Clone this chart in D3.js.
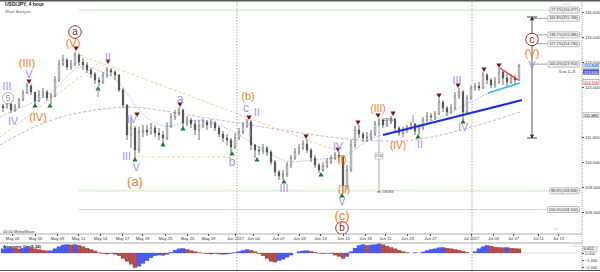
<!DOCTYPE html>
<html><head><meta charset="utf-8">
<script src="https://cdn.jsdelivr.net/npm/d3@7"></script>
<style>body{margin:0;background:#fff}svg{display:block;font-family:"Liberation Sans",Arial,sans-serif}</style>
</head><body><svg id="c" width="600" height="272"></svg>
<script>
// ---------- DATA ----------
const openP = [112.24,112.16,112.32,112.08,112.20,112.48,112.76,113.04,112.80,112.44,
112.68,112.80,112.56,112.64,113.28,113.92,114.08,113.80,113.92,114.28,
114.00,113.88,113.68,113.52,113.28,113.20,113.48,113.68,113.60,113.48,
112.88,112.28,111.08,111.36,110.48,111.20,111.28,111.20,111.36,111.16,
111.08,110.96,111.44,111.80,111.96,112.08,111.56,111.68,111.52,111.28,
111.44,111.60,111.48,111.56,111.36,111.12,110.96,110.88,110.60,110.96,
111.20,111.44,111.60,110.68,110.48,110.44,110.56,110.40,110.00,109.60,
109.44,109.52,109.88,110.16,110.40,110.56,110.72,110.48,110.16,109.88,
109.68,109.84,110.00,110.16,110.28,110.20,109.04,109.68,110.68,111.28,
111.12,110.96,111.00,111.12,111.52,111.68,111.48,111.60,111.72,111.36,
111.16,111.28,111.36,111.52,111.24,111.36,111.68,111.84,111.80,111.92,
112.40,112.16,112.00,112.16,112.64,112.80,112.00,112.56,112.96,113.04,
112.96,113.48,113.28,113.08,113.20,113.60,113.36,113.20,113.36,113.28];
const closeP = [112.16,112.32,112.08,112.20,112.48,112.76,113.04,112.80,112.44,112.68,
112.80,112.56,112.64,113.28,113.92,114.08,113.80,113.92,114.28,114.00,
113.88,113.68,113.52,113.28,113.20,113.48,113.68,113.60,113.48,112.88,
112.28,111.08,111.36,110.48,111.20,111.28,111.20,111.36,111.16,111.08,
110.96,111.44,111.80,111.96,112.08,111.56,111.68,111.52,111.28,111.44,
111.60,111.48,111.56,111.36,111.12,110.96,110.88,110.60,110.96,111.20,
111.44,111.60,110.68,110.48,110.44,110.56,110.40,110.00,109.60,109.44,
109.52,109.88,110.16,110.40,110.56,110.72,110.48,110.16,109.88,109.68,
109.84,110.00,110.16,110.28,110.20,109.04,109.68,110.68,111.28,111.12,
110.96,111.00,111.12,111.52,111.68,111.48,111.60,111.72,111.36,111.16,
111.28,111.36,111.52,111.24,111.36,111.68,111.84,111.80,111.92,112.40,
112.16,112.00,112.16,112.64,112.80,112.00,112.56,112.96,113.04,112.96,
113.48,113.28,113.08,113.20,113.60,113.36,113.20,113.36,113.28,113.84];
const highP = [112.32,112.48,112.36,112.32,112.56,112.88,113.16,113.12,112.80,112.88,
112.96,112.88,112.76,113.44,114.08,114.28,114.16,114.08,114.40,114.36,
114.16,114.00,113.76,113.60,113.40,113.60,113.80,113.76,113.68,113.52,
112.96,112.32,111.80,111.44,111.40,111.48,111.48,111.56,111.48,111.36,
111.24,111.60,111.96,112.08,112.20,112.12,111.84,111.76,111.68,111.68,
111.72,111.68,111.72,111.64,111.44,111.24,111.12,110.96,111.16,111.36,
111.60,111.72,111.68,110.72,110.64,110.72,110.64,110.48,110.08,109.68,
109.68,110.00,110.28,110.56,110.72,110.88,110.92,110.56,110.28,109.96,
110.00,110.16,110.28,110.40,110.40,110.28,109.88,110.88,111.44,111.48,
111.20,111.20,111.28,111.64,111.76,111.72,111.76,111.84,111.76,111.44,
111.40,111.48,111.60,111.56,111.52,111.80,112.00,111.96,112.04,112.56,
112.48,112.24,112.32,112.80,112.96,112.88,112.68,113.08,113.16,113.20,
113.60,113.56,113.36,113.40,113.76,113.68,113.52,113.52,113.48,113.92];
const lowP = [112.00,112.16,111.96,112.00,112.16,112.44,112.72,112.68,112.32,112.40,
112.56,112.44,112.32,112.60,113.20,113.84,113.68,113.68,113.84,113.84,
113.68,113.56,113.36,113.12,113.04,113.12,113.36,113.44,113.28,112.80,
112.16,110.88,110.56,110.16,110.36,111.00,111.04,111.08,111.00,110.88,
110.76,110.88,111.36,111.68,111.84,111.40,111.44,111.36,111.08,110.88,
111.36,111.28,111.36,111.24,111.00,110.80,110.68,110.36,110.52,110.88,
111.12,111.36,110.48,110.16,110.28,110.32,110.24,109.88,109.44,109.28,
109.28,109.40,109.76,110.08,110.28,110.48,110.36,110.00,109.76,109.56,
109.60,109.76,109.92,110.08,109.96,108.72,108.88,109.60,110.56,110.96,
110.80,110.80,110.88,111.04,111.44,111.36,111.40,111.52,111.24,111.04,
111.00,111.16,111.28,111.08,111.08,111.28,111.60,111.64,111.68,111.88,
112.00,111.84,111.92,112.08,112.52,111.68,111.96,112.48,112.84,112.84,
112.92,113.12,112.96,112.96,113.12,113.08,112.96,113.12,113.12,113.24];
const aoValues = [0.6,0.7,0.8,0.7,0.6,0.7,0.9,0.8,0.6,0.5,
0.4,0.3,0.32,0.6,0.9,1.15,1.2,1.15,1.2,1.1,
0.9,0.7,0.5,0.3,0.05,-0.1,-0.15,-0.1,-0.2,-0.4,
-0.8,-1.2,-1.6,-2.1,-1.9,-1.5,-1.1,-0.7,-0.4,-0.3,
-0.35,-0.2,0.1,0.4,0.6,0.65,0.5,0.35,0.2,0.05,
-0.05,-0.1,-0.15,-0.1,-0.15,-0.2,-0.15,-0.1,0.05,0.2,
0.35,0.5,0.4,0.2,-0.1,-0.4,-0.8,-1.2,-1.3,-1.1,
-0.9,-0.6,-0.3,0.0,0.2,0.3,0.35,0.25,0.1,-0.05,
-0.1,-0.05,-0.1,-0.3,-0.5,-0.8,-0.5,0.2,0.7,1.1,
1.2,1.1,1.15,1.2,1.3,1.2,1.0,0.8,0.6,0.4,
0.2,0.05,0.0,0.05,0.0,0.15,0.35,0.5,0.6,0.75,
0.8,0.7,0.6,0.5,0.4,0.25,0.1,0.0,0.2,0.6,
0.9,1.1,1.0,0.85,0.8,0.75,0.78,0.7,0.65,0.6];

const dateLabels = ["May 03","May 05","May 09","May 11","May 14","May 17","May 19","May 23","May 25","May 29","Jun 2017","Jun 04","Jun 07","Jun 09","Jun 13","Jun 15","Jun 18","Jun 21","Jun 23","Jun 27","Jul 2017","Jul 05","Jul 07","Jul 11","Jul 13"];
const datePos = [2.25,8,13.5,18.75,24.25,29.75,34.75,40.5,46,51.25,58,62.5,68.75,74,79.25,85,90.5,95.5,101,106.75,117,122.5,127.5,133.75,138.75];
const monthStarts = [58.5,117.25];
const priceTicks = [116,115,114,113,111,110,109,108];
const aoTicks = [0,-1,-2];

const fastMA = [[-0.75,111.80],[4.25,112.16],[9.25,112.48],[13,112.88],[15.5,113.36],[18.5,113.84],[21.75,113.80],[25.5,113.56],[28.75,113.28],[31.25,112.68],[34.25,112.00],[37.25,111.60],[40.5,111.36],[44.25,111.52],[49.25,111.76],[54.25,111.48],[59.25,111.08],[64.25,110.56],[68,110.20],[71.75,109.96],[76.75,110.08],[82.5,110.16],[86,110.20],[89.25,110.68],[92.5,111.00],[99.25,111.28],[104.25,111.44],[109.25,111.80],[114.25,112.16],[118,112.48],[121.25,112.76],[125.5,113.00],[129.25,113.16]];
const slowMA = [[-0.75,110.68],[6.75,111.36],[15.25,111.88],[24.25,112.12],[31.75,112.24],[39.25,112.08],[49.25,111.80],[61.75,111.48],[74.25,111.16],[86.75,110.88],[99.25,110.80],[106.75,110.96],[116.75,111.36],[129.25,112.00]];

const peachLine = [[19.25,114.28],[84.25,110.40]];
const peachFlat = [[33.5,110.20],[57.5,110.20]];
const paleLine = [[-0.75,111.00],[24.25,114.00]];
const cyanLine = [[121.25,112.76],[129.25,113.16]];
const redLine = [[124.25,113.76],[128.75,113.28]];
const blueLine = [[95,111.08],[129.75,112.48]];

const minorLabels = [["III",1,113.04],["IV",2.5,111.64],["V",6.5,113.52],["I",23.75,112.76],["II",26.25,114.20],["IV",32.25,111.72],["III",30.9,110.24],["V",33.3,109.80],["a",44.25,112.52],["b",57.25,110.00],["c",60.75,112.16],["II",63.5,112.00],["I",61.75,111.16],["III",70.25,108.96],["IV",83.75,110.64],["V",84.75,108.44],["I",102.5,111.72],["II",104.25,110.72],["III",113.5,113.28],["IV",115,111.40],["V",132.25,113.88]];
const intermLabels = [["(III)",6,113.96,11],["(IV)",8.75,111.80,11],["(V)",17.5,114.76,11],["(a)",33,109.24,13],["(b)",61.25,112.64,11],["(I)",84.75,110.12,10],["(II)",85.25,108.92,10],["(c)",84.75,107.88,13],["(III)",93.75,112.16,10],["(IV)",98.75,110.68,10],["(V)",132.25,114.36,11]];
const primaryLabels = [["a",18,115.20],["b",84.75,107.36],["c",132.25,114.90]];
const degreeFiveLabels = [["5",1.25,112.56]];

const topMarks = [[6.5,113.16],[18.25,114.48],[26.25,113.96],[33.5,111.84],[44.25,112.24],[61.5,111.72],[75.75,110.96],[83.75,110.44],[88.75,111.52],[93.75,111.80],[97.5,111.88],[109,112.60],[113.75,113.00],[120.25,113.64],[124,113.80]];
const bottomMarks = [[8,112.32],[11.75,112.32],[23.75,113.00],[33,110.16],[40,110.76],[45,111.40],[57.25,110.40],[63.5,110.16],[70.25,109.28],[79.5,109.56],[84.75,108.72],[103.75,111.08],[115,111.68]];

const fibLevels = [116.077,115.746,115.086,114.730,113.914,108.846,108.100];
const fibTexts = ["27.2%(116.077)","161.8%(115.746)","138.2%(115.086)","127.2%(114.730)","100.0%(113.914)","88.6%(108.846)","100.0%(108.100)"];
const fibFrom = [19,132.25,132.25,132.25,132.25,19,19];

const measureBig = [132.25,115.80,110.96];
const measureSmall = [94,111.68,108.80];
const priceTags = [["113.848",113.848],["113.600",113.60],["113.196",113.20],["111.880",111.88]];

// ---------- SCALES ----------
const svg = d3.select("#c");
const R = 582;
const x = d3.scaleLinear().domain([-0.75,144.75]).range([0,R]);
const y = d3.scaleLinear().domain([116.48,107.12]).range([0,234]);
const yo = d3.scaleLinear().domain([1.43,-2.43]).range([243,270]);
const purple="#a98ef0", orange="#f47c22", darkred="#8e1b1b";

const main = svg.append("g");
svg.append("defs").append("clipPath").attr("id","clipMain").append("rect").attr("x",0).attr("y",2).attr("width",R).attr("height",232);
const plot = main.append("g").attr("clip-path","url(#clipMain)");

monthStarts.forEach(m=>{
  svg.append("line").attr("x1",x(m)).attr("x2",x(m)).attr("y1",2).attr("y2",270)
    .attr("stroke","#aaa").attr("stroke-width",1).attr("stroke-dasharray","1.5,1.5");
});

fibLevels.forEach((lv,k)=>{
  const t = svg.append("text").attr("x",578).attr("y",y(lv)).attr("text-anchor","end")
    .attr("dominant-baseline","central").attr("font-size",3.8).attr("fill","#333").text(fibTexts[k]);
  const w = t.node().getComputedTextLength();
  const green = fibFrom[k] < 100;
  plot.append("line").attr("x1",x(fibFrom[k])).attr("x2",578-w-2).attr("y1",y(lv)).attr("y2",y(lv))
    .attr("stroke", green ? "#c2e8b8" : "#888").attr("stroke-width",green?1:0.8);
  svg.insert("rect","text").attr("x",578-w-1.5).attr("y",y(lv)-3).attr("width",w+3).attr("height",6)
    .attr("rx",1.5).attr("fill","#f3f3f3").attr("stroke","#999").attr("stroke-width",0.6);
  t.raise();
});
svg.append("text").attr("x",567).attr("y",y(113.64)).attr("text-anchor","middle").attr("dominant-baseline","central")
  .attr("font-size",4.2).attr("fill","#222").text("5 vs 1+3");

const line = d3.line().x(d=>x(d[0])).y(d=>y(d[1]));
const lineC = d3.line().x(d=>x(d[0])).y(d=>y(d[1])).curve(d3.curveBasis);

plot.append("path").attr("d",lineC(slowMA)).attr("fill","none").attr("stroke","#d9a6e6").attr("stroke-width",1).attr("stroke-dasharray","3,2");
plot.append("path").attr("d",lineC(fastMA)).attr("fill","none").attr("stroke","#9cc0f2").attr("stroke-width",1).attr("stroke-dasharray","1.5,1.5");
plot.append("path").attr("d",line(peachLine)).attr("fill","none").attr("stroke","#f6c99a").attr("stroke-width",1).attr("stroke-dasharray","3,2");
plot.append("path").attr("d",line(peachFlat)).attr("fill","none").attr("stroke","#efd7a8").attr("stroke-width",1).attr("stroke-dasharray","3,2");
plot.append("path").attr("d",line(paleLine)).attr("fill","none").attr("stroke","#d9dea6").attr("stroke-width",1).attr("stroke-dasharray","3,2");

const cg = plot.append("g");
closeP.forEach((c,i)=>{
  const o = openP[i];
  cg.append("line").attr("x1",x(i)).attr("x2",x(i)).attr("y1",y(highP[i])).attr("y2",y(lowP[i]))
    .attr("stroke","#4a4a4a").attr("stroke-width",0.8);
  const top = y(Math.max(o,c)), bot = y(Math.min(o,c));
  cg.append("rect").attr("x",x(i)-0.9).attr("width",1.8).attr("y",top).attr("height",Math.max(0.8,bot-top))
    .attr("fill", c>=o ? "#e8e8e8" : "#555").attr("stroke","#4a4a4a").attr("stroke-width",0.4);
});

plot.append("path").attr("d",line(blueLine)).attr("stroke","#1d2fe0").attr("stroke-width",2.2).attr("fill","none");
plot.append("path").attr("d",line(cyanLine)).attr("stroke","#2fc4ee").attr("stroke-width",1.8).attr("fill","none");
plot.append("path").attr("d",line(redLine)).attr("stroke","#e8332e").attr("stroke-width",1.3).attr("fill","none");

const tri = d3.symbol().type(d3.symbolTriangle).size(12);
topMarks.forEach(d=>{
  plot.append("path").attr("d",tri()).attr("fill","#7d1414")
    .attr("transform",`translate(${x(d[0])},${y(d[1])-2}) rotate(180)`);
});
bottomMarks.forEach(d=>{
  plot.append("path").attr("d",tri()).attr("fill","#1e7a2e")
    .attr("transform",`translate(${x(d[0])},${y(d[1])+2})`);
});

const mb = measureBig;
plot.append("line").attr("x1",x(mb[0])).attr("x2",x(mb[0])).attr("y1",y(mb[1])).attr("y2",y(mb[2])).attr("stroke","#333").attr("stroke-width",0.8);
[mb[1],mb[2]].forEach((p,k)=>{
  plot.append("line").attr("x1",x(mb[0])-5).attr("x2",x(mb[0])+5).attr("y1",y(p)).attr("y2",y(p)).attr("stroke","#333").attr("stroke-width",0.9);
  plot.append("path").attr("d",d3.symbol().type(d3.symbolTriangle).size(8)())
    .attr("transform",`translate(${x(mb[0])},${y(p)+(k?-2:2)}) rotate(${k?180:0})`).attr("fill","#333");
});
const ms = measureSmall;
plot.append("line").attr("x1",x(ms[0])).attr("x2",x(ms[0])).attr("y1",y(ms[1])).attr("y2",y(ms[2])).attr("stroke","#999").attr("stroke-width",0.8);
plot.append("line").attr("x1",x(ms[0])-2).attr("x2",x(ms[0])+2).attr("y1",y(ms[2])).attr("y2",y(ms[2])).attr("stroke","#777");
plot.append("rect").attr("x",x(ms[0])-4).attr("y",y((ms[1]+ms[2])/2)-3).attr("width",8).attr("height",6).attr("fill","#fff").attr("stroke","#999").attr("stroke-width",0.5);
plot.append("text").attr("x",x(ms[0])).attr("y",y((ms[1]+ms[2])/2)).attr("text-anchor","middle").attr("dominant-baseline","central").attr("font-size",3).attr("fill","#333").text("2.914");
plot.append("text").attr("x",x(ms[0])+3).attr("y",y(ms[1])).attr("dominant-baseline","central").attr("font-size",3.2).attr("fill","#333").text("111.730");
plot.append("text").attr("x",x(ms[0])+3).attr("y",y(ms[2])).attr("dominant-baseline","central").attr("font-size",3.2).attr("fill","#333").text("108.816");

minorLabels.forEach(d=>{
  plot.append("text").attr("x",x(d[1])).attr("y",y(d[2])).attr("text-anchor","middle").attr("dominant-baseline","central")
    .attr("font-size", /[abc]/.test(d[0]) ? 12 : 10.5).attr("fill",purple).text(d[0]);
});
intermLabels.forEach(d=>{
  plot.append("text").attr("x",x(d[1])).attr("y",y(d[2])).attr("text-anchor","middle").attr("dominant-baseline","central")
    .attr("font-size",d[3]).attr("fill",orange).text(d[0]);
});
primaryLabels.forEach(d=>{
  plot.append("circle").attr("cx",x(d[1])).attr("cy",y(d[2])).attr("r",6.3).attr("fill","#fff").attr("stroke",darkred).attr("stroke-width",0.9);
  plot.append("text").attr("x",x(d[1])).attr("y",y(d[2])-0.5).attr("text-anchor","middle").attr("dominant-baseline","central")
    .attr("font-size",10).attr("fill",darkred).text(d[0]);
});
degreeFiveLabels.forEach(d=>{
  plot.append("circle").attr("cx",x(d[1])).attr("cy",y(d[2])).attr("r",5.5).attr("fill","#fff").attr("stroke","#aaa").attr("stroke-width",0.9);
  plot.append("text").attr("x",x(d[1])).attr("y",y(d[2])).attr("text-anchor","middle").attr("dominant-baseline","central")
    .attr("font-size",9).attr("fill","#999").text(d[0]);
});

svg.append("text").attr("x",5).attr("y",6).attr("font-size",5).attr("font-weight","bold").attr("fill","#222").text("USD/JPY, 4 hour");
svg.append("text").attr("x",5).attr("y",12.5).attr("font-size",4).attr("fill","#666").text("Wave Analysis");
svg.append("line").attr("x1",0).attr("x2",600).attr("y1",0.75).attr("y2",0.75).attr("stroke","#555").attr("stroke-width",1.5);
svg.append("text").attr("x",566).attr("y",5).attr("text-anchor","middle").attr("font-size",4).attr("fill","#999").text("◇◇◇");
svg.append("text").attr("x",556).attr("y",230).attr("text-anchor","middle").attr("font-size",4).attr("fill","#999").text("◇◇");
svg.append("text").attr("x",574).attr("y",247).attr("text-anchor","middle").attr("font-size",4).attr("fill","#999").text("◇□");

svg.append("text").attr("x",3).attr("y",232.5).attr("font-size",4).attr("fill","#333").text("00:00 MetroWave");
svg.append("line").attr("x1",0).attr("x2",R).attr("y1",234).attr("y2",234).attr("stroke","#777").attr("stroke-width",0.6);
svg.append("line").attr("x1",0).attr("x2",R).attr("y1",243).attr("y2",243).attr("stroke","#777").attr("stroke-width",0.6);
const xa = svg.append("g").attr("transform","translate(0,234)")
  .call(d3.axisBottom(x).tickValues(datePos).tickFormat((d,i)=>dateLabels[i]).tickSize(2).tickPadding(1));
xa.select(".domain").remove();
xa.selectAll("text").attr("font-size",4.2).attr("fill","#333").attr("font-family","Liberation Sans, Arial");
xa.selectAll("line").attr("stroke","#555");

svg.append("line").attr("x1",R).attr("x2",R).attr("y1",2).attr("y2",270).attr("stroke","#888").attr("stroke-width",0.8).attr("stroke-dasharray","1,1");
const ya = svg.append("g").attr("transform",`translate(${R},0)`)
  .call(d3.axisRight(y).tickValues(priceTicks).tickFormat(d3.format(".3f")).tickSize(2).tickPadding(1));
ya.select(".domain").remove();
ya.selectAll("text").attr("font-size",4.2).attr("fill","#333").attr("font-family","Liberation Sans, Arial");
ya.selectAll("line").attr("stroke","#555");
const tagStyle = [["#cfe0ff","#1a4bd0"],["#4a55d8","#fff"],["#fff","#c22"],["#eee","#222"]];
priceTags.forEach((d,k)=>{
  svg.append("rect").attr("x",R+1).attr("y",y(d[1])-2.6).attr("width",16).attr("height",5.2)
    .attr("fill",tagStyle[k][0]).attr("stroke",k==2?"#c22":"#888").attr("stroke-width",0.4);
  svg.append("text").attr("x",R+2).attr("y",y(d[1])).attr("dominant-baseline","central").attr("font-size",4)
    .attr("fill",tagStyle[k][1]).text(d[0]);
});

svg.append("text").attr("x",3).attr("y",248).attr("font-size",4).attr("font-weight","bold").attr("fill","#222").text("Awesome Osc(5,34)");
const og = svg.append("g");
aoValues.forEach((v,i)=>{
  const up = i===0 ? true : v >= aoValues[i-1];
  og.append("rect").attr("x",x(i)-2).attr("width",4)
    .attr("y",Math.min(yo(0),yo(v))).attr("height",Math.abs(yo(v)-yo(0)))
    .attr("fill", up ? "#4a5cf2" : "#b2524c").attr("stroke", up ? "#3d4fe0" : "#9c433e").attr("stroke-width",0.3);
});
svg.append("line").attr("x1",x(129.5)).attr("x2",R).attr("y1",yo(0)).attr("y2",yo(0)).attr("stroke","#999").attr("stroke-width",0.6).attr("stroke-dasharray","1,1");
const oa = svg.append("g").attr("transform",`translate(${R},0)`)
  .call(d3.axisRight(yo).tickValues(aoTicks).tickFormat(d3.format(".3f")).tickSize(2).tickPadding(1));
oa.select(".domain").remove();
oa.selectAll("text").attr("font-size",4).attr("fill","#333").attr("font-family","Liberation Sans, Arial");
oa.selectAll("line").attr("stroke","#555");
svg.append("rect").attr("x",R+1).attr("y",yo(0.6)-2.5).attr("width",14).attr("height",5).attr("fill","#eee").attr("stroke","#888").attr("stroke-width",0.4);
svg.append("text").attr("x",R+2).attr("y",yo(0.6)).attr("dominant-baseline","central").attr("font-size",4).attr("fill","#222").text("0.612");
svg.append("line").attr("x1",0).attr("x2",600).attr("y1",270.5).attr("y2",270.5).attr("stroke","#555").attr("stroke-width",1);
</script></body></html>
